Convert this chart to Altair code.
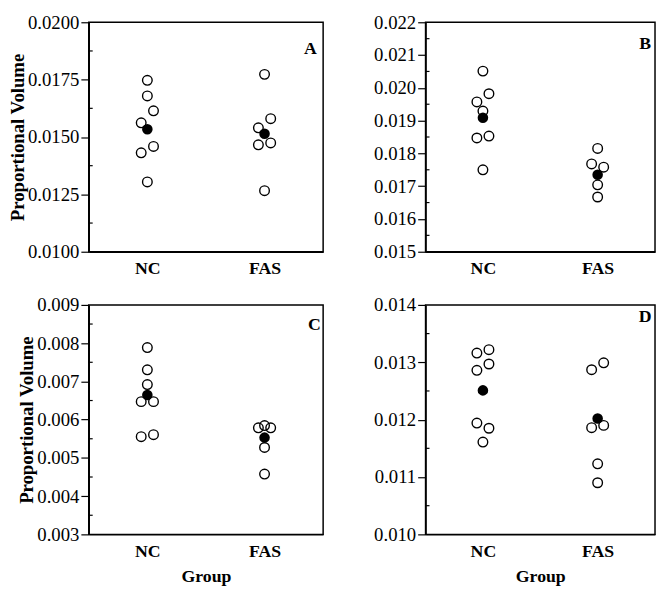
import altair as alt
import pandas as pd

groups = ["NC", "FAS"]
panel_letters = ["A", "B", "C", "D"]

# Panel A
a_nc = [0.01747, 0.01679, 0.01614, 0.01562, 0.01459, 0.01431, 0.01304]
a_nc_jit = [0, 0, 1, -1, 1, -1, 0]
a_fas = [0.01773, 0.01580, 0.01540, 0.01474, 0.01466, 0.01266]
a_fas_jit = [0, 1, -1, 1, -1, 0]
a_means = [0.01534, 0.01514]
a_ticks = [0.0100, 0.0125, 0.0150, 0.0175, 0.0200]

# Panel B
b_nc = [0.02051, 0.01982, 0.01957, 0.01929, 0.01847, 0.01853, 0.01750]
b_nc_jit = [0, 1, -1, 0, -1, 1, 0]
b_fas = [0.01815, 0.01768, 0.01758, 0.01704, 0.01667]
b_fas_jit = [0, -1, 1, 0, 0]
b_means = [0.01909, 0.01735]
b_ticks = [0.015, 0.016, 0.017, 0.018, 0.019, 0.020, 0.021, 0.022]

# Panel C
c_nc = [0.007884, 0.007303, 0.006918, 0.006471, 0.006471, 0.005555, 0.005607]
c_nc_jit = [0, 0, 0, -1, 1, -1, 1]
c_fas = [0.005787, 0.005846, 0.005787, 0.005272, 0.004578]
c_fas_jit = [-1, 0, 1, 0, 0]
c_means = [0.006643, 0.005530]
c_ticks = [0.003, 0.004, 0.005, 0.006, 0.007, 0.008, 0.009]

# Panel D
d_nc = [0.01316, 0.01322, 0.01286, 0.01297, 0.01194, 0.01185, 0.01161]
d_nc_jit = [-1, 1, -1, 1, -1, 1, 0]
d_fas = [0.01287, 0.01299, 0.01186, 0.01190, 0.01123, 0.01090]
d_fas_jit = [-1, 1, -1, 1, 0, 0]
d_means = [0.01251, 0.01202]
d_ticks = [0.010, 0.011, 0.012, 0.013, 0.014]

FONT = "Liberation Serif"
W1, W2, H = 238, 233, 233


def panel(letter, nc, nc_jit, fas, fas_jit, means, ticks, fmt, width,
          ytitle, xtitle, lx, ly):
    pts = pd.DataFrame(
        [{"group": "NC", "value": v, "jit": j} for v, j in zip(nc, nc_jit)]
        + [{"group": "FAS", "value": v, "jit": j} for v, j in zip(fas, fas_jit)]
    )
    mn = pd.DataFrame({"group": groups, "value": means, "jit": [0, 0]})
    minor = pd.DataFrame({"value": [(ticks[i] + ticks[i + 1]) / 2
                                    for i in range(len(ticks) - 1)]})
    xcalc = "indexof(['NC','FAS'], datum.group) * 2 + 1 + datum.jit * 0.105"

    xaxis_kwargs = dict(
        values=[1, 3],
        labelExpr="datum.value == 1 ? 'NC' : 'FAS'",
        ticks=False, grid=False, labelPadding=8, labelOverlap=False,
        labelFont=FONT, labelFontSize=18, labelFontWeight="bold",
        labelColor="black", domainColor="black", domainWidth=1.5,
    )
    if xtitle:
        xaxis = alt.Axis(title=xtitle, titleFont=FONT, titleFontSize=18,
                         titleFontWeight="bold", titleColor="black",
                         titlePadding=8, **xaxis_kwargs)
    else:
        xaxis = alt.Axis(title=None, **xaxis_kwargs)
    xenc = alt.X("xpos:Q", scale=alt.Scale(domain=[0, 4], nice=False, zero=False),
                 axis=xaxis)

    yscale = alt.Scale(domain=[ticks[0], ticks[-1]], nice=False, zero=False)
    yaxis_kwargs = dict(
        values=ticks, format=fmt, grid=False, labelOverlap=False,
        labelFont=FONT, labelFontSize=19, labelColor="black", labelPadding=2,
        tickColor="black", tickSize=8, tickWidth=1.2,
        domainColor="black", domainWidth=1.5,
    )
    if ytitle:
        yaxis = alt.Axis(title=ytitle, titleFont=FONT, titleFontSize=19,
                         titleFontWeight="bold", titleColor="black",
                         titlePadding=0, **yaxis_kwargs)
    else:
        yaxis = alt.Axis(title=None, **yaxis_kwargs)
    yenc = alt.Y("value:Q", scale=yscale, axis=yaxis)

    open_pts = alt.Chart(pts).transform_calculate(xpos=xcalc).mark_point(
        shape="circle", filled=False, stroke="black", strokeWidth=1.4,
        size=95, opacity=1,
    ).encode(x=xenc, y=yenc)
    mean_pts = alt.Chart(mn).transform_calculate(xpos=xcalc).mark_circle(
        color="black", size=115, opacity=1,
    ).encode(x=xenc, y=yenc)
    minor_ticks = alt.Chart(minor).mark_rule(color="black", strokeWidth=1.2).encode(
        y=yenc, x=alt.value(0), x2=alt.value(4),
    )
    label = alt.Chart(pd.DataFrame({"t": [letter]})).mark_text(
        font=FONT, fontSize=18, fontWeight="bold", color="black",
        align="center", baseline="middle",
    ).encode(text="t:N", x=alt.value(lx), y=alt.value(ly))
    return alt.layer(open_pts, mean_pts, minor_ticks, label).properties(
        width=width, height=H)


pA = panel(panel_letters[0], a_nc, a_nc_jit, a_fas, a_fas_jit, a_means, a_ticks,
           ".4f", W1, "Proportional Volume", None, 225, 27)
pB = panel(panel_letters[1], b_nc, b_nc_jit, b_fas, b_fas_jit, b_means, b_ticks,
           ".3f", W2, None, None, 223, 22)
pC = panel(panel_letters[2], c_nc, c_nc_jit, c_fas, c_fas_jit, c_means, c_ticks,
           ".3f", W1, "Proportional Volume", "Group", 229, 20)
pD = panel(panel_letters[3], d_nc, d_nc_jit, d_fas, d_fas_jit, d_means, d_ticks,
           ".3f", W2, None, "Group", 223, 12)

chart = alt.concat(pA, pB, pC, pD, columns=2,
                   spacing={"row": 17, "column": 49}).properties(
    padding={"left": 0, "top": 0, "right": 0, "bottom": 0},
    background="white",
).configure_view(stroke="black", strokeWidth=1.5)

chart.save("out.html", embed_options={"renderer": "svg", "actions": False})
